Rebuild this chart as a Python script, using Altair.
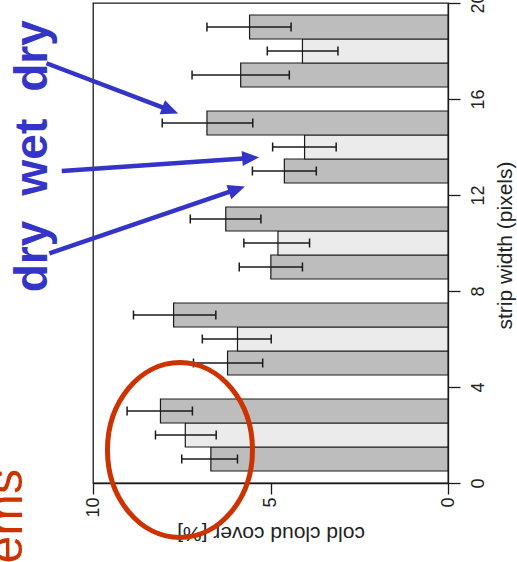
import math
import altair as alt
import pandas as pd

# ---------------- data ----------------
strip_width = [1, 2, 3, 5, 6, 7, 9, 10, 11, 13, 14, 15, 17, 18, 19]
condition = ["dry", "wet", "dry"] * 5
cloud_cover = [6.68, 7.40, 8.10, 6.21, 5.93, 7.73, 4.99, 4.79, 6.26,
               4.61, 4.04, 6.79, 5.84, 4.10, 5.59]
err_low = [5.93, 6.53, 7.20, 5.22, 4.98, 6.54, 4.10, 3.90, 5.27,
           3.71, 3.15, 5.50, 4.47, 3.10, 4.42]
err_high = [7.50, 8.24, 9.04, 7.17, 6.92, 8.86, 5.88, 5.75, 7.26,
            5.51, 4.94, 8.05, 7.21, 5.09, 6.79]

x_ticks = [0, 5, 10]
y_ticks = [0, 4, 8, 12, 16, 20]

# annotation words and arrows (data units)
word_text = ["dry", "wet", "dry"]
word_strip = [17.79, 13.58, 9.44]
word_cover = 11.30
arrow_from_cover = [11.31, 10.88, 11.23]
arrow_from_strip = [17.49, 13.00, 9.57]
arrow_to_cover = [7.60, 5.32, 5.72]
arrow_to_strip = [15.40, 13.57, 12.35]
ellipse_cover, ellipse_strip = 7.55, 1.375
side_text = "Problems"
side_cover, side_strip = 12.0, 0.58

# ---------------- layout ----------------
W, H = 355, 480
XMAX, YMAX = 10, 20
pxx = W / XMAX
pxy = H / YMAX
FONT = "Liberation Sans"
BLUE = "#3434c8"
RED = "#cc3300"
INK = "#1a1a1a"

df = pd.DataFrame(dict(strip=strip_width, cond=condition, cover=cloud_cover,
                       lo=err_low, hi=err_high))

xscale = alt.Scale(domain=[0, XMAX], reverse=True, nice=False, zero=False)
yscale = alt.Scale(domain=[0, YMAX], nice=False, zero=False)

xaxis = alt.Axis(values=x_ticks, labelAngle=270, labelAlign="right", labelBaseline="middle",
                 tickSize=11, labelPadding=3, labelFontSize=18, labelFont=FONT,
                 labelColor="#222", labelFlush=False, labelOverlap=False, grid=False,
                 domainColor=INK, tickColor=INK, domainWidth=1.3, tickWidth=1.3,
                 title="cold cloud cover [%]", titleAngle=180, titleFontSize=21,
                 titleFont=FONT, titleFontWeight="normal", titleColor="#222",
                 titleAlign="center", titleBaseline="bottom", titleX=W / 2, titleY=39)

yaxis = alt.Axis(orient="right", values=y_ticks, labelAngle=270, labelAlign="center",
                 labelBaseline="top", tickSize=12, labelPadding=9, labelFontSize=18,
                 labelFont=FONT, labelColor="#222", labelFlush=False, labelOverlap=False,
                 grid=False, domainColor=INK, tickColor=INK, domainWidth=1.3, tickWidth=1.3,
                 title="strip width (pixels)", titleAngle=270, titleFontSize=21,
                 titleFont=FONT, titleFontWeight="normal", titleColor="#222",
                 titleAlign="center", titleBaseline="top", titleX=46, titleY=H / 2 + 2)


def X(field):
    return alt.X(field, type="quantitative", scale=xscale, axis=xaxis)


def Y(field):
    return alt.Y(field, type="quantitative", scale=yscale, axis=yaxis)


bars = alt.Chart(df).transform_calculate(
    y0="datum.strip - 0.5", y1="datum.strip + 0.5"
).mark_rect(stroke=INK, strokeWidth=1.2).encode(
    x=X("cover"),
    x2=alt.datum(0),
    y=Y("y0"),
    y2="y1:Q",
    color=alt.Color("cond:N", scale=alt.Scale(domain=["dry", "wet"],
                                              range=["#bdbdbd", "#ebebeb"]), legend=None),
)

err = alt.Chart(df).mark_rule(color=INK, strokeWidth=1.5).encode(
    x=X("lo"), x2="hi:Q", y=Y("strip"),
)
caps_lo = alt.Chart(df).mark_tick(orient="vertical", color=INK, thickness=1.5, size=9,
                                  opacity=1).encode(x=X("lo"), y=Y("strip"))
caps_hi = alt.Chart(df).mark_tick(orient="vertical", color=INK, thickness=1.5, size=9,
                                  opacity=1).encode(x=X("hi"), y=Y("strip"))

# ellipse annotation (custom symbol built from cubic Beziers)
a, b, k = 0.8286, 1.0, 0.5523
ell_path = (f"M{a},0 C{a},{k*b} {k*a},{b} 0,{b} C{-k*a},{b} {-a},{k*b} {-a},0 "
            f"C{-a},{-k*b} {-k*a},{-b} 0,{-b} C{k*a},{-b} {a},{-k*b} {a},0 Z")
ell_df = pd.DataFrame(dict(cover=[ellipse_cover], strip=[ellipse_strip]))
ellipse = alt.Chart(ell_df).mark_point(shape=ell_path, size=175 ** 2, filled=False,
                                       stroke=RED, strokeWidth=5, opacity=1).encode(
    x=X("cover"), y=Y("strip"),
)

# arrows
rows = []
for v0, s0, v1, s1 in zip(arrow_from_cover, arrow_from_strip, arrow_to_cover, arrow_to_strip):
    dx = -(v1 - v0) * pxx
    dy = -(s1 - s0) * pxy
    L = math.hypot(dx, dy)
    ux, uy = dx / L, dy / L
    back = 12
    ve = v1 + ux * back / pxx
    se = s1 + uy * back / pxy
    ang = math.degrees(math.atan2(ux, -uy)) % 360
    rows.append(dict(v0=v0, s0=s0, ve=ve, se=se, v1=v1, s1=s1, ang=ang))
arr_df = pd.DataFrame(rows)

arrow_lines = alt.Chart(arr_df).mark_rule(color=BLUE, strokeWidth=4.5).encode(
    x=X("v0"), x2="ve:Q", y=Y("s0"), y2="se:Q",
)
head_path = "M0,0 L0.75,1.7 L-0.75,1.7 Z"
arrow_heads = alt.Chart(arr_df).mark_point(shape=head_path, size=400, filled=True,
                                           color=BLUE, opacity=1, strokeWidth=0).encode(
    x=X("v1"), y=Y("s1"),
    angle=alt.Angle("ang:Q", scale=None),
)

words_df = pd.DataFrame(dict(word=word_text, strip=word_strip, cover=[word_cover] * 3))
words = alt.Chart(words_df).mark_text(angle=270, align="center", baseline="alphabetic",
                                      font=FONT, fontSize=46, fontWeight="bold",
                                      color=BLUE).encode(
    x=X("cover"), y=Y("strip"), text="word:N",
)

side_df = pd.DataFrame(dict(t=[side_text], cover=[side_cover], strip=[side_strip]))
side = alt.Chart(side_df).mark_text(angle=270, align="right", baseline="alphabetic",
                                    font=FONT, fontSize=50, color=RED).encode(
    x=X("cover"), y=Y("strip"), text="t:N",
)

chart = alt.layer(bars, err, caps_lo, caps_hi, ellipse, arrow_lines, arrow_heads,
                  words, side).properties(
    width=W, height=H,
    padding={"left": 93, "top": 3, "right": 69, "bottom": 79},
    autosize=alt.AutoSizeParams(type="none"),
    background="white",
).configure_view(stroke=INK, strokeWidth=1.3)

chart.save("out.html", embed_options={"renderer": "svg", "actions": False})
